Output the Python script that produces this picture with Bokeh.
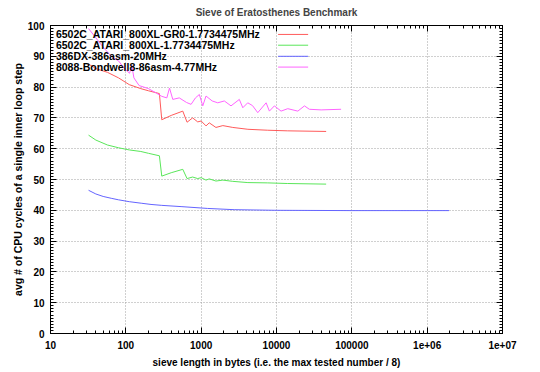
from bokeh.plotting import figure
from bokeh.models import (FixedTicker, LogAxis, LinearAxis, CustomJSTickFormatter,
                          CustomLabelingPolicy, Label, Arrow, Range1d)
from bokeh.embed import file_html
from bokeh.resources import INLINE

# ---------------- data ----------------
atari_size = [32, 40, 57, 80, 111, 158, 200, 279, 300, 400, 570, 650, 770, 900, 1000,
              1160, 1280, 1570, 1940, 2630, 4170, 7640, 13900, 45600]
atari_gr0_cycles = [87.5, 86.0, 84.8, 83.0, 80.8, 79.5, 78.8, 77.9, 69.4, 70.8, 72.2, 68.6,
                    70.0, 68.7, 69.0, 67.4, 68.4, 66.9, 67.5, 66.9, 66.3, 66.0, 65.8, 65.6]
atari_cycles = [64.4, 62.8, 61.2, 60.3, 59.6, 59.1, 58.5, 57.7, 51.1, 52.2, 53.3, 50.3,
                50.8, 50.3, 50.6, 49.8, 50.2, 49.5, 49.8, 49.4, 49.0, 48.9, 48.7, 48.5]

i386_size = [32, 40, 50, 64, 80, 111, 160, 216, 300, 541, 1220, 2740, 10000, 100000,
             1000000, 1950000]
i386_cycles = [46.5, 45.3, 44.5, 43.9, 43.4, 42.8, 42.3, 41.9, 41.6, 41.2, 40.6, 40.2,
               40.0, 39.9, 39.9, 39.9]

i8088_size = [32, 40, 48, 64, 80, 96, 112, 120, 128, 150, 200, 256, 300, 350, 380, 420,
              512, 640, 735, 840, 946, 1050, 1160, 1400, 1660, 2030, 2490, 3210, 3570,
              4150, 4800, 5640, 7280, 8050, 9380, 11500, 14100, 19200, 23500, 27300,
              39100, 72000]
i8088_cycles = [99.0, 96.0, 93.5, 90.0, 88.5, 86.0, 84.5, 87.0, 83.0, 80.5, 79.5, 78.0,
                77.0, 76.5, 79.7, 76.0, 76.5, 75.0, 74.4, 76.5, 77.6, 73.9, 77.1, 75.5,
                74.9, 75.5, 73.9, 76.0, 73.3, 74.9, 74.0, 71.7, 74.9, 72.2, 73.9, 72.2,
                73.0, 72.2, 73.9, 72.8, 72.6, 72.8]

series_names = ["6502C_ATARI_800XL-GR0-1.7734475MHz",
                "6502C_ATARI_800XL-1.7734475MHz",
                "386DX-386asm-20MHz",
                "8088-Bondwell8-86asm-4.77MHz"]
series_colors = ["#ff5a5a", "#5ae65a", "#6464ff", "#ff64ff"]

xtick_vals = [10, 100, 1000, 10000, 100000, 1000000, 10000000]
xtick_labels = ["10", "100", "1000", "10000", "100000", "1e+06", "1e+07"]
ytick_vals = [0, 10, 20, 30, 40, 50, 60, 70, 80, 90, 100]

FONT = "Liberation Sans"

# ---------------- figure ----------------
p = figure(width=540, height=372, x_axis_type="log",
           x_range=Range1d(10, 1e7), y_range=Range1d(0, 100),
           output_backend="svg", toolbar_location=None,
           min_border_left=50, min_border_right=38, min_border_top=22,
           min_border_bottom=39)
p.background_fill_color = "white"
p.border_fill_color = "white"
p.outline_line_color = "black"
p.outline_line_width = 1

p.title.text = "Sieve of Eratosthenes Benchmark"
p.title.align = "center"
p.title.text_font = FONT
p.title.text_font_size = "10px"
p.title.text_font_style = "bold"
p.title.offset = 0
p.title.standoff = 8

x_minor = [m * 10 ** e for e in range(1, 7) for m in range(2, 10)]
xticker = FixedTicker(ticks=xtick_vals, minor_ticks=x_minor)
yticker = FixedTicker(ticks=ytick_vals, minor_ticks=list(range(0, 101, 1)))

xfmt = CustomJSTickFormatter(args=dict(vals=xtick_vals, labs=xtick_labels), code="""
const i = vals.findIndex(v => Math.abs(Math.log10(v) - Math.log10(tick)) < 1e-6);
return i >= 0 ? labs[i] : '';
""")


def style_axis(ax, show_labels):
    ax.axis_line_color = "black"
    ax.major_tick_in = 6
    ax.major_tick_out = 0
    ax.minor_tick_in = 3
    ax.minor_tick_out = 0
    ax.major_tick_line_color = "black"
    ax.minor_tick_line_color = "black"
    ax.major_label_text_font = FONT
    ax.major_label_text_font_style = "bold"
    ax.major_label_text_font_size = "10px" if show_labels else "1px"
    ax.major_label_standoff = 6 if show_labels else 0
    ax.axis_label_text_font = FONT
    ax.axis_label_text_font_style = "bold"
    ax.axis_label_text_font_size = "10px"
    ax.axis_label_text_color = "black"
    ax.major_label_text_color = "black"
    if not show_labels:
        ax.major_label_policy = CustomLabelingPolicy(
            code="for (const i of indices) { indices.unset(i) }")


xa = p.xaxis[0]
xa.ticker = xticker
xa.formatter = xfmt
xa.axis_label = "sieve length in bytes (i.e. the max tested number / 8)"
style_axis(xa, True)
xa.major_label_standoff = 7
xa.axis_label_standoff = 5

ya = p.yaxis[0]
ya.ticker = yticker
ya.axis_label = "avg # of CPU cycles of a single inner loop step"
style_axis(ya, True)
ya.axis_label_text_font_size = "10.5px"
ya.axis_label_standoff = 1

top_ax = LogAxis(ticker=xticker, formatter=xfmt)
style_axis(top_ax, False)
p.add_layout(top_ax, "above")

right_ax = LinearAxis(ticker=yticker)
style_axis(right_ax, False)
p.add_layout(right_ax, "right")

for g in (p.xgrid[0], p.ygrid[0]):
    g.grid_line_color = "#a0a0a0"
    g.grid_line_dash = "1 2"
    g.grid_line_width = 1
p.xgrid[0].ticker = xticker
p.ygrid[0].ticker = yticker

# ---------------- lines ----------------
series = [(atari_size, atari_gr0_cycles), (atari_size, atari_cycles),
          (i386_size, i386_cycles), (i8088_size, i8088_cycles)]
for (xs, ys), col in zip(series, series_colors):
    p.line(xs, ys, line_color=col, line_width=1)

# ---------------- gnuplot-style key (text left, sample right) ----------------
key_text_x = 11.8
key_line_x0 = 10500
key_line_x1 = 26300
key_rows_y = [97.1, 93.6, 90.0, 86.5]
for name, col, ky in zip(series_names, series_colors, key_rows_y):
    p.add_layout(Label(x=key_text_x, y=ky, text=name, text_font=FONT,
                       text_font_size="10.5px", text_font_style="bold",
                       text_color="black", text_align="left",
                       text_baseline="middle"))
    p.add_layout(Arrow(x_start=key_line_x0, y_start=ky, x_end=key_line_x1, y_end=ky,
                       end=None, line_color=col, line_width=1))

open("out.html", "w").write(file_html(p, INLINE))
